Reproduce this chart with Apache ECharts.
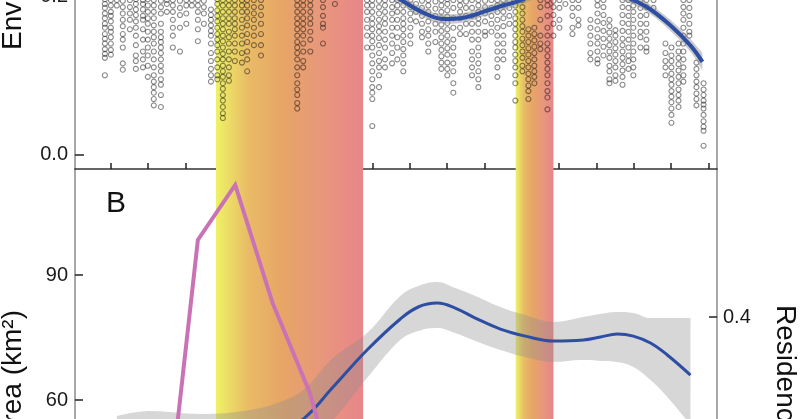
<!DOCTYPE html>
<html><head><meta charset="utf-8">
<script src="https://cdn.jsdelivr.net/npm/echarts@6/dist/echarts.min.js"></script>
<style>html,body{margin:0;padding:0;background:#fff}#c{width:800px;height:419px}</style>
</head><body><div id="c"></div>
<script>
// ---- axes / ticks ----
const xRange = [0.04, 17.23];
const xTicks = [1,2,3,4,5,6,7,8,9,10,11,12,13,14,15,16,17];
const bands = [[3.815, 7.754], [11.84, 12.85]];
const envTicks = [0, 0.2];
const areaTicks = [30, 60, 90];
const resTicks = [0.3, 0.4];

// ---- panel A scatter: column positions and values ----
const colX = [0.84,1.0,1.16,1.32,1.51,1.67,1.86,1.99,2.15,2.34,2.50,2.66,2.85,3.02,3.17,3.33,3.49,3.68,3.85,4.0,4.16,4.32,4.51,4.65,4.83,5.02,5.99,6.15,6.34,6.68,7.0,7.86,8.0,8.18,8.34,8.53,8.67,8.83,9.02,9.17,9.33,9.50,9.69,9.85,10.01,10.17,10.35,10.51,10.67,10.84,11.02,11.19,11.35,11.51,11.67,11.83,12.02,12.18,12.34,12.50,12.69,12.85,13.01,13.17,13.36,13.52,13.84,14.03,14.19,14.35,14.51,14.70,14.86,14.99,15.18,15.34,15.53,15.85,16.01,16.20,16.33,16.49,16.68,16.87];
const colVals = [
[0.196,0.19,0.185,0.178,0.172,0.165,0.16,0.152,0.146,0.14,0.133,0.127,0.122,0.1],
[0.195,0.188,0.18,0.175,0.168,0.16,0.155,0.148,0.14,0.132,0.126],
[0.195,0.188],
[0.194,0.186,0.178,0.17,0.162,0.152,0.145,0.135,0.115,0.107],
[0.195,0.186,0.178,0.17,0.158],
[0.196,0.19,0.183,0.176,0.168,0.16,0.15,0.138,0.125,0.118,0.108],
[0.195,0.19,0.183,0.175,0.17,0.158,0.145,0.13,0.12,0.11],
[0.196,0.188,0.18,0.172,0.165,0.155,0.145,0.135,0.125,0.112,0.098],
[0.195,0.188,0.18,0.172,0.163,0.155,0.148,0.14,0.13,0.12,0.11,0.1,0.092,0.085,0.078,0.07,0.062],
[0.194,0.186,0.178,0.165,0.155,0.148,0.142,0.135,0.128,0.12,0.112,0.105,0.095,0.088,0.075,0.06],
[0.195,0.19,0.18],
[0.195,0.188,0.18,0.17,0.16,0.15,0.135],
[0.194,0.185,0.176,0.16,0.13],
[0.195,0.188,0.178,0.165],
[0.195,0.188],
[0.195,0.188,0.18,0.17,0.158,0.143],
[0.194,0.186,0.178,0.165],
[0.183,0.176,0.17,0.163,0.156,0.15,0.14,0.128,0.118,0.108,0.1,0.092],
[0.196,0.19,0.182,0.175,0.168,0.16,0.152,0.145,0.138,0.13,0.12,0.11,0.1,0.095],
[0.195,0.188,0.18,0.172,0.165,0.158,0.15,0.143,0.135,0.127,0.12,0.112,0.105,0.098,0.09,0.083,0.075,0.068,0.06,0.052,0.046],
[0.195,0.188,0.18,0.172,0.165,0.155,0.148,0.14,0.13,0.12,0.11,0.1,0.093],
[0.195,0.188,0.18,0.172,0.165,0.158,0.15,0.14,0.13,0.118],
[0.195,0.188,0.18,0.17,0.16,0.15,0.14,0.128,0.116],
[0.195,0.188,0.18,0.172,0.163,0.152,0.142,0.13,0.12,0.105],
[0.195,0.186,0.178,0.17,0.16,0.15,0.138],
[0.195,0.186,0.176,0.165,0.152,0.138,0.125],
[0.195,0.188,0.18,0.172,0.165,0.158,0.15,0.142,0.135,0.128,0.12,0.11,0.1,0.09,0.082,0.075,0.065,0.058],
[0.195,0.188,0.18,0.172,0.165,0.158,0.15,0.14,0.13,0.118,0.11],
[0.195,0.188,0.18,0.172,0.165,0.155,0.145,0.13],
[0.195,0.186,0.175,0.165,0.16,0.14],
[0.19],
[0.195,0.188,0.18,0.17,0.16,0.15,0.135],
[0.195,0.188,0.18,0.172,0.165,0.158,0.15,0.143,0.135,0.125,0.115,0.105,0.095,0.085,0.078,0.07,0.036],
[0.194,0.186,0.178,0.17,0.162,0.155,0.147,0.138,0.128,0.118,0.11,0.1,0.085],
[0.195,0.188,0.18,0.172,0.165,0.155,0.145,0.135,0.12,0.11],
[0.195,0.186,0.178,0.17,0.16,0.15,0.14,0.128,0.115],
[0.195,0.188,0.18,0.17,0.16,0.148,0.135,0.12],
[0.195,0.188,0.18,0.172,0.165,0.158,0.15,0.142,0.133,0.125,0.115,0.105],
[0.195,0.186,0.178,0.17,0.16,0.15,0.14],
[0.19,0.18,0.168],
[0.194,0.185,0.175,0.165,0.155,0.148],
[0.195,0.188,0.18,0.168,0.158,0.15,0.14,0.13],
[0.193,0.184,0.175,0.165,0.155,0.142],
[0.195,0.188,0.18,0.172,0.164,0.156,0.148,0.14,0.132,0.124,0.116,0.108],
[0.196,0.19,0.182,0.174,0.166,0.158,0.15,0.142,0.134,0.126,0.116,0.108,0.1],
[0.195,0.185,0.172,0.16,0.145,0.135,0.125,0.115,0.105,0.09,0.078],
[0.195,0.188,0.18,0.172,0.16,0.152],
[0.193,0.185,0.175,0.165,0.152],
[0.195,0.185,0.175,0.165,0.155,0.145,0.13,0.12,0.11,0.1],
[0.195,0.188,0.18,0.172,0.165,0.155,0.145,0.135,0.125,0.115,0.105,0.095,0.085],
[0.194,0.186,0.178,0.168,0.155,0.15],
[0.195,0.185,0.175,0.165,0.155],
[0.195,0.188,0.18,0.17,0.16,0.15,0.14,0.13,0.12,0.11,0.098],
[0.195,0.188,0.18,0.172,0.162,0.15,0.14,0.13,0.12],
[0.195,0.185,0.175,0.165],
[0.195,0.188,0.18,0.172,0.165,0.158,0.15,0.142,0.135,0.126,0.118,0.11,0.1,0.09,0.068],
[0.195,0.186,0.178,0.17,0.162,0.155,0.146,0.138,0.13,0.122,0.112,0.105],
[0.158,0.15,0.142,0.134,0.126,0.118,0.11,0.102,0.095,0.087,0.08,0.07],
[0.16,0.152,0.144,0.136,0.128,0.12,0.112,0.105,0.098,0.09],
[0.195,0.186,0.17,0.15,0.14,0.133],
[0.195,0.188,0.175,0.16,0.15,0.14,0.132,0.124,0.116,0.108,0.1,0.09,0.08,0.072,0.057],
[0.194,0.186,0.176,0.165,0.15],
[0.195,0.185,0.17,0.16],
[0.19],
[0.195,0.185,0.175,0.16,0.152],
[0.195,0.185,0.17,0.163],
[0.17,0.16,0.15,0.14,0.128,0.12],
[0.195,0.188,0.178,0.168,0.158,0.148,0.14,0.13,0.12,0.115],
[0.195,0.186,0.176,0.166,0.156,0.146,0.136,0.125],
[0.17,0.162,0.154,0.146,0.138,0.13,0.122,0.112,0.105,0.095,0.09],
[0.157,0.15,0.142,0.134,0.126,0.118,0.11,0.1,0.093],
[0.195,0.186,0.176,0.166,0.156,0.146,0.138,0.13,0.122,0.114,0.106,0.098,0.088],
[0.195,0.185,0.175,0.165,0.155,0.145,0.135,0.125,0.118,0.108],
[0.195,0.188,0.18,0.17,0.16,0.15,0.14,0.13,0.12,0.11,0.1],
[0.195,0.185,0.175,0.165,0.155,0.148,0.135],
[0.195,0.186,0.176,0.165,0.155,0.145,0.135,0.13],
[0.195,0.185],
[0.14,0.128,0.118,0.11,0.1],
[0.135,0.125,0.118,0.11,0.102,0.095,0.088,0.08,0.073,0.066,0.058,0.05,0.04],
[0.14,0.13,0.122,0.114,0.106,0.098,0.09,0.082,0.075,0.068,0.06],
[0.195,0.186,0.178,0.17,0.16,0.15,0.14,0.13,0.12,0.11,0.1,0.092],
[0.195,0.185,0.175,0.165,0.155,0.15],
[0.116,0.108,0.1,0.092,0.085,0.077,0.07,0.062],
[0.09,0.082,0.075,0.068,0.063,0.058,0.05,0.042,0.035,0.03,0.011]
];

// ---- panel A smooth fit ----
const envX  = [1,3,5,6.5,7.2,7.8,8.3,8.74,9.28,9.9,10.48,10.97,11.5,11.88,12.5,13.2,14.0,14.6,14.99,15.45,15.98,16.51,16.84];
const envY  = [0.30,0.31,0.29,0.26,0.24,0.222,0.207,0.196,0.181,0.171,0.173,0.18,0.188,0.193,0.205,0.212,0.21,0.202,0.195,0.183,0.163,0.138,0.117];
const envLo = [0.294,0.304,0.284,0.254,0.234,0.216,0.201,0.19,0.175,0.165,0.167,0.174,0.182,0.187,0.199,0.206,0.204,0.196,0.189,0.177,0.156,0.13,0.106];
const envHi = [0.306,0.316,0.296,0.266,0.246,0.228,0.213,0.202,0.187,0.177,0.179,0.186,0.194,0.199,0.211,0.218,0.216,0.208,0.201,0.189,0.17,0.146,0.128];

// ---- panel B: area (pink) ----
const areaX = [2.33,3.33,4.33,5.33,6.33,7.33];
const areaY = [18,98.4,111.6,83.3,61.7,28.8];

// ---- panel B: residence smooth fit ----
const resX  = [1.16,2.05,3.39,4.73,5.53,6.15,6.95,7.86,8.75,9.23,9.74,10.22,10.76,11.43,12.1,12.85,13.65,14.11,14.56,14.99,15.45,15.90,16.52];
const resY  = [0.314,0.317,0.316,0.319,0.3247,0.332,0.3533,0.378,0.3987,0.4067,0.4093,0.406,0.3993,0.392,0.3873,0.384,0.3847,0.3867,0.3887,0.3873,0.3827,0.3747,0.3613];
const resHi = [0.334,0.3373,0.3353,0.338,0.3433,0.3513,0.3727,0.3893,0.414,0.4207,0.4233,0.4193,0.414,0.4067,0.4013,0.3967,0.4,0.402,0.4033,0.4027,0.3993,0.3993,0.3993];
const resLo = [0.2947,0.2967,0.298,0.3,0.3033,0.3113,0.3313,0.3593,0.3847,0.3907,0.3927,0.3893,0.384,0.378,0.3733,0.37,0.3713,0.3707,0.37,0.3667,0.358,0.3467,0.328];

const FONT = '"Liberation Sans", Arial, sans-serif';
const chart = echarts.init(document.getElementById('c'), null, {renderer: 'canvas'});

const bandGrad = () => new echarts.graphic.LinearGradient(0, 0, 1, 0, [
  {offset: 0, color: '#eef266'},
  {offset: 0.22, color: '#e9bb66'},
  {offset: 0.45, color: '#e7a566'},
  {offset: 0.72, color: '#e8977c'},
  {offset: 1, color: '#e8858a'}
]);
const markBands = {
  silent: true,
  data: bands.map(b => [{xAxis: b[0], itemStyle: {color: bandGrad(), opacity: 1}}, {xAxis: b[1]}])
};

const scatterData = [];
colX.forEach((x, i) => colVals[i].forEach(v => scatterData.push([x, v])));
const zip = (xs, ys) => xs.map((x, i) => [x, ys[i]]);
// value first, x second, so that stacking happens on the value (y) dimension
const zipYX = (xs, ys) => xs.map((x, i) => [ys[i], x]);
const diffYX = (xs, hi, lo) => xs.map((x, i) => [hi[i] - lo[i], x]);

const tickLabel = {fontSize: 20, fontFamily: FONT, color: '#1a1a1a'};
const grayLine = {show: true, lineStyle: {color: '#8a8a8a', width: 1.5}};
const SM = 0.4;

const option = {
  animation: false,
  backgroundColor: '#ffffff',
  grid: [
    {left: 75, right: 83, top: -60, height: 229, outerBoundsMode: 'none', containLabel: false},
    {left: 75, right: 83, top: 169, height: 414, outerBoundsMode: 'none', containLabel: false}
  ],
  xAxis: [
    {gridIndex: 0, type: 'value', min: xRange[0], max: xRange[1],
     axisLine: {show: true, onZero: false, lineStyle: {color: '#333', width: 1.5}},
     axisTick: {show: true, inside: true, length: 6, customValues: xTicks, lineStyle: {color: '#222', width: 1.5}},
     axisLabel: {show: false}, splitLine: {show: false}},
    {gridIndex: 1, type: 'value', min: xRange[0], max: xRange[1], show: false, splitLine: {show: false}}
  ],
  yAxis: [
    {gridIndex: 0, type: 'value', min: -0.0183, max: 0.2707, position: 'left',
     axisLine: grayLine,
     axisTick: {show: true, inside: true, length: 9, customValues: envTicks, lineStyle: {color: '#222', width: 1.5}},
     axisLabel: Object.assign({customValues: envTicks, margin: 7, formatter: v => v.toFixed(1)}, tickLabel),
     splitLine: {show: false}},
    {gridIndex: 0, type: 'value', min: -0.0183, max: 0.2707, position: 'right',
     axisLine: grayLine, axisTick: {show: false}, axisLabel: {show: false}, splitLine: {show: false}},
    {gridIndex: 1, type: 'value', min: 16.08, max: 115.44, position: 'left',
     axisLine: grayLine,
     axisTick: {show: true, inside: true, length: 8, customValues: areaTicks, lineStyle: {color: '#222', width: 1.5}},
     axisLabel: Object.assign({customValues: areaTicks, margin: 7}, tickLabel),
     splitLine: {show: false}},
    {gridIndex: 1, type: 'value', min: 0.2227, max: 0.4987, position: 'right',
     axisLine: grayLine,
     axisTick: {show: true, inside: true, length: 8, customValues: resTicks, lineStyle: {color: '#222', width: 1.5}},
     axisLabel: Object.assign({customValues: resTicks, margin: 6, formatter: v => v.toFixed(1)}, tickLabel),
     splitLine: {show: false}}
  ],
  series: [
    {type: 'scatter', xAxisIndex: 0, yAxisIndex: 0, data: scatterData, silent: true,
     symbol: 'circle', symbolSize: 5, z: 3,
     itemStyle: {color: 'rgba(0,0,0,0)', borderColor: 'rgba(10,10,10,0.6)', borderWidth: 1.1},
     markArea: markBands},
    {type: 'line', xAxisIndex: 0, yAxisIndex: 0, data: zipYX(envX, envLo), encode: {x: 1, y: 0}, stack: 'envci', smooth: SM,
     showSymbol: false, silent: true, lineStyle: {width: 0}, z: 4},
    {type: 'line', xAxisIndex: 0, yAxisIndex: 0, data: diffYX(envX, envHi, envLo), encode: {x: 1, y: 0}, stack: 'envci', smooth: SM,
     showSymbol: false, silent: true, lineStyle: {width: 0}, areaStyle: {color: 'rgba(140,140,140,0.45)', opacity: 1}, z: 4},
    {type: 'line', xAxisIndex: 0, yAxisIndex: 0, data: zip(envX, envY), smooth: SM, showSymbol: false, silent: true,
     lineStyle: {color: '#2d4ea3', width: 4}, z: 5},

    {type: 'line', xAxisIndex: 1, yAxisIndex: 3, data: zipYX(resX, resLo), encode: {x: 1, y: 0}, stack: 'resci', smooth: SM,
     showSymbol: false, silent: true, lineStyle: {width: 0}, z: 3, markArea: markBands},
    {type: 'line', xAxisIndex: 1, yAxisIndex: 3, data: diffYX(resX, resHi, resLo), encode: {x: 1, y: 0}, stack: 'resci', smooth: SM,
     showSymbol: false, silent: true, lineStyle: {width: 0}, areaStyle: {color: 'rgba(140,140,140,0.35)', opacity: 1}, z: 3},
    {type: 'line', xAxisIndex: 1, yAxisIndex: 3, data: zip(resX, resY), smooth: SM, showSymbol: false, silent: true,
     lineStyle: {color: '#2d4ea3', width: 3}, z: 5},
    {type: 'line', xAxisIndex: 1, yAxisIndex: 2, data: zip(areaX, areaY), smooth: false, showSymbol: false, silent: true,
     lineStyle: {color: '#c973b6', width: 4, join: 'miter'}, z: 6}
  ],
  graphic: [
    {type: 'text', x: 13, y: 50, rotation: Math.PI / 2, silent: true,
     style: {text: 'Environment', fontSize: 28, fontFamily: FONT, fill: '#111', align: 'left', verticalAlign: 'middle'}},
    {type: 'text', x: 13, y: 310, rotation: Math.PI / 2, silent: true,
     style: {text: 'Area (km²)', fontSize: 28, fontFamily: FONT, fill: '#111', align: 'right', verticalAlign: 'middle'}},
    {type: 'text', x: 785, y: 305, rotation: -Math.PI / 2, silent: true,
     style: {text: 'Residence', fontSize: 28, fontFamily: FONT, fill: '#111', align: 'left', verticalAlign: 'middle'}},
    {type: 'text', x: 116, y: 204, silent: true,
     style: {text: 'B', fontSize: 30, fontFamily: FONT, fill: '#111', align: 'center', verticalAlign: 'middle'}}
  ]
};
chart.setOption(option);
</script>
</body></html>
